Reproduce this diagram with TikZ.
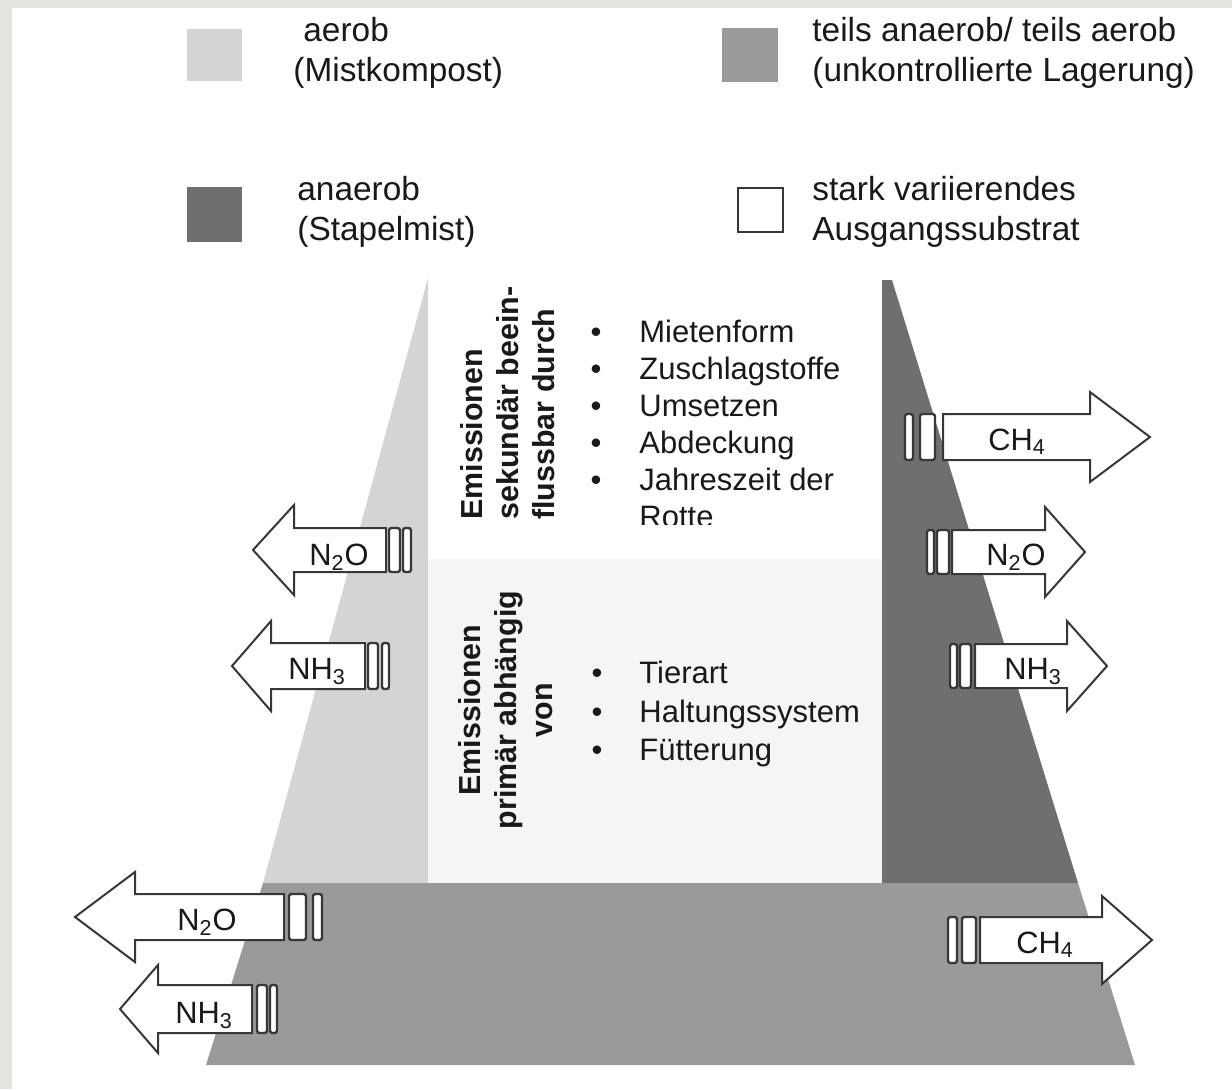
\documentclass[tikz,border=0pt]{standalone}
\usepackage{fontspec}
\setmainfont{Liberation Sans}
\definecolor{framegray}{RGB}{229,227,223}
\definecolor{lightgr}{RGB}{212,212,212}
\definecolor{midgr}{RGB}{154,154,154}
\definecolor{darkgr}{RGB}{111,111,111}
\definecolor{palegr}{RGB}{245,245,245}
\definecolor{edgegr}{RGB}{55,55,55}
\definecolor{txt}{RGB}{25,25,25}
\newcommand{\gasarrow}[6]{%
  \draw[arrowline] (#1,#2) -- (#3,#2-#5) -- (#3,#2-#6) -- (#4,#2-#6) -- (#4,#2+#6) -- (#3,#2+#6) -- (#3,#2+#5) -- cycle;}
\newcommand{\gasbars}[6]{%
  \draw[barbox] (#1,#5-#6) rectangle (#2,#5+#6);
  \draw[barbox] (#3,#5-#6) rectangle (#4,#5+#6);}
\begin{document}
\begin{tikzpicture}[x=0.5pt,y=-0.5pt,
  arrowline/.style={draw=edgegr, line width=1pt, fill=white, line join=miter},
  barbox/.style={draw=edgegr, line width=1.2pt, fill=white, rounded corners=1.2pt},
  gaslabel/.style={font=\fontsize{15.4}{18}\selectfont, text=txt, anchor=base, inner sep=0pt},
  legendtext/.style={font=\fontsize{16.7}{20}\selectfont, text=txt, align=left, anchor=west, inner sep=0pt},
  itemtext/.style={font=\fontsize{15.5}{18}\selectfont, text=txt, anchor=base west, inner sep=0pt},
  bulletdot/.style={font=\fontsize{15.5}{18}\selectfont, text=txt, anchor=base, inner sep=0pt},
  vertlabel/.style={font=\fontsize{15.2}{18}\selectfont\bfseries, text=txt, rotate=90, inner sep=0pt}
]
\useasboundingbox (0,0) rectangle (1232,1089);
\fill[framegray] (0,0) rectangle (1232,1089);
\fill[white] (12,8) rectangle (1232,1089);

% legend
\fill[lightgr] (187,29) rectangle (242,81);
\node[legendtext] (leg1) at (293,53) {\hspace{0.3em}aerob\\(Mistkompost)};
\fill[darkgr] (187,187) rectangle (242,242);
\node[legendtext] (leg2) at (297,212) {anaerob\\(Stapelmist)};
\fill[midgr] (722,28) rectangle (778,82);
\node[legendtext] (leg3) at (812,53) {teils anaerob/ teils aerob\\(unkontrollierte Lagerung)};
\draw[draw=edgegr, line width=1.2pt, fill=white] (738,188) rectangle (783,232);
\node[legendtext] (leg4) at (812,212) {stark variierendes\\Ausgangssubstrat};

% main regions
\fill[lightgr] (428,278) -- (428,883) -- (263,883) -- cycle;
\fill[palegr] (428,559) rectangle (882,883);
\fill[darkgr] (882,280) -- (892,280) -- (1078,883) -- (882,883) -- cycle;
\fill[midgr] (263,883) -- (1078,883) -- (1135,1065) -- (206,1065) -- cycle;

% vertical headings
\node[vertlabel, align=left, anchor=west] (sek) at (508,520) {Emissionen\\sekundär beein-\\flussbar durch};
\node[vertlabel, align=center, anchor=center] (prim) at (506,710) {Emissionen\\primär abhängig\\von};

% upper list
\begin{scope}
\clip (428,278) rectangle (882,524);
\foreach \t/\yy [count=\i] in {Mietenform/342, Zuschlagstoffe/379, Umsetzen/416, Abdeckung/453, Jahreszeit der/490} {
  \node[bulletdot] (ub\i) at (596,\yy) {•};
  \node[itemtext] (ui\i) at (639,\yy) {\t};
}
\node[itemtext] (ui6) at (639,527) {Rotte};
\end{scope}

% lower list
\foreach \t/\yy [count=\i] in {Tierart/683, Haltungssystem/722, Fütterung/760} {
  \node[bulletdot] (lb\i) at (597,\yy) {•};
  \node[itemtext] (li\i) at (639,\yy) {\t};
}

% arrows: tip x, centre y, head back x, shaft end x, half head, half shaft
\gasarrow{253}{550}{294}{386}{45}{22}
\gasbars{389}{400}{403}{411}{550}{22}
\node[gaslabel] (a1) at (339,565) {N\textsubscript{2}O};

\gasarrow{232}{666}{271}{365}{45}{23}
\gasbars{368}{378}{382}{389}{666}{23}
\node[gaslabel] (a2) at (317,679) {NH\textsubscript{3}};

\gasarrow{75}{917}{135}{284}{45}{23}
\gasbars{289}{306}{313}{322}{917}{23}
\node[gaslabel] (a3) at (207,930) {N\textsubscript{2}O};

\gasarrow{120}{1009}{158}{252}{44}{24}
\gasbars{257}{267}{270}{277}{1009}{24}
\node[gaslabel] (a4) at (204,1023) {NH\textsubscript{3}};

\gasarrow{1150}{437}{1090}{943}{45}{23}
\gasbars{905}{913}{920}{935}{437}{23}
\node[gaslabel] (a5) at (1017,450) {CH\textsubscript{4}};

\gasarrow{1085}{552}{1045}{952}{45}{22}
\gasbars{927}{934}{937}{949}{552}{22}
\node[gaslabel] (a6) at (1016,565) {N\textsubscript{2}O};

\gasarrow{1107}{666}{1067}{975}{45}{22}
\gasbars{950}{957}{960}{971}{666}{22}
\node[gaslabel] (a7) at (1033,679) {NH\textsubscript{3}};

\gasarrow{1152}{940}{1102}{980}{44}{23}
\gasbars{948}{957}{962}{976}{940}{23}
\node[gaslabel] (a8) at (1045,953) {CH\textsubscript{4}};
\end{tikzpicture}
\end{document}
